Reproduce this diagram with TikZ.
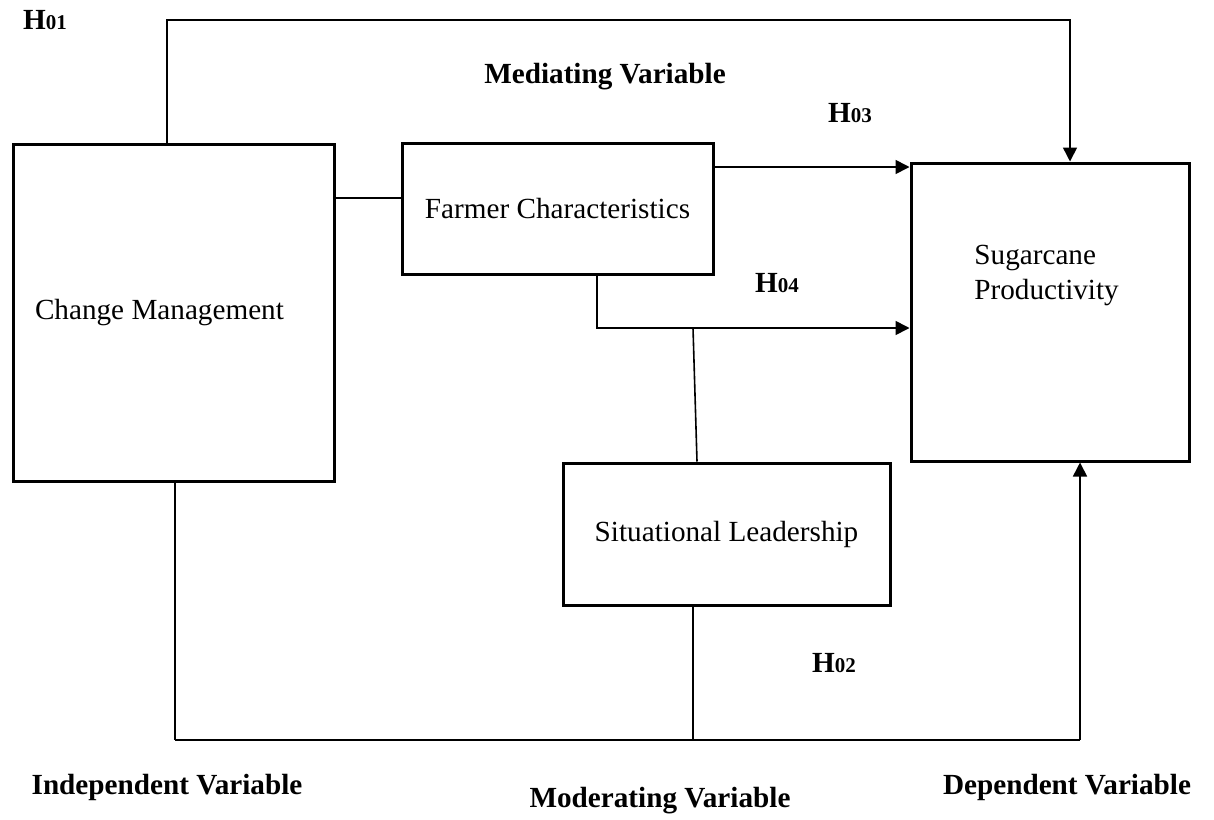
\documentclass[tikz,border=0pt]{standalone}
\usepackage{fontspec}
\setmainfont{Liberation Serif}
\usetikzlibrary{arrows.meta}
\tikzset{
  vbox/.style={
    rectangle, draw=black, line width=1.5pt, fill=white,
    font=\fontsize{14.6}{17.5}\selectfont,
    align=center, inner sep=0pt
  },
  lbl/.style={font=\fontsize{14.6}{17.5}\selectfont\bfseries, inner sep=0pt},
  ln/.style={line width=0.8pt, black},
  arr/.style={ln, -{Triangle[length=7pt,width=7pt]}}
}
\newcommand{\hyp}[1]{H{\fontsize{10.5}{12}\selectfont #1}}

\begin{document}
\begin{tikzpicture}[x=0.5pt, y=-0.5pt]
\useasboundingbox (0,0) rectangle (1214,819);

\node[vbox, minimum width=160.5pt, minimum height=168.5pt,
  text width=138.5pt, inner xsep=11pt, align=flush left] (cm) at (173.5,312.5)
  {Change Management};

\node[vbox, minimum width=155.5pt, minimum height=65.5pt] (farm) at (557.5,208.5)
  {Farmer Characteristics};

\node[vbox, minimum width=139pt, minimum height=149pt] (prod) at (1050,312) {};
\node[font=\fontsize{14.6}{17.5}\selectfont, align=left, inner sep=0pt,
  anchor=west] (prodtxt) at (974,275) {Sugarcane\\Productivity};

\node[vbox, minimum width=163.5pt, minimum height=71pt] (lead) at (726.5,534)
  {Situational Leadership};

% labels
\node[lbl] (h1) at (45,20) {\hyp{01}};
\node[lbl] (med) at (605,77) {Mediating Variable};
\node[lbl] (h3) at (850,113) {\hyp{03}};
\node[lbl] (h4) at (777,283) {\hyp{04}};
\node[lbl] (h2) at (834,663) {\hyp{02}};
\node[lbl] (ind) at (167,787) {Independent Variable};
\node[lbl] (mod) at (660,801) {Moderating Variable};
\node[lbl] (dep) at (1067,787) {Dependent Variable};

% connectors
\draw[arr] (cm.north -| 167,0) -- (167,20) -| (prod.north -| 1070,0);
\draw[ln] (cm.east |- 0,198) -- (farm.west |- 0,198);
\draw[arr] (farm.east |- 0,167) -- (prod.west |- 0,167);
\draw[arr] (farm.south -| 597,0) |- (prod.west |- 0,328);
\coordinate (j4) at (693,328);
\draw[ln] (j4) -- (lead.north -| 697,0);
\draw[ln] (cm.south -| 175,0) -- (175,740);
\draw[ln, line width=1.4pt] (175,740) -- (1080,740);
\draw[arr] (1080,740) -- (prod.south -| 1080,0);
\draw[ln] (lead.south -| 693,0) -- (693,740);

\end{tikzpicture}
\end{document}
